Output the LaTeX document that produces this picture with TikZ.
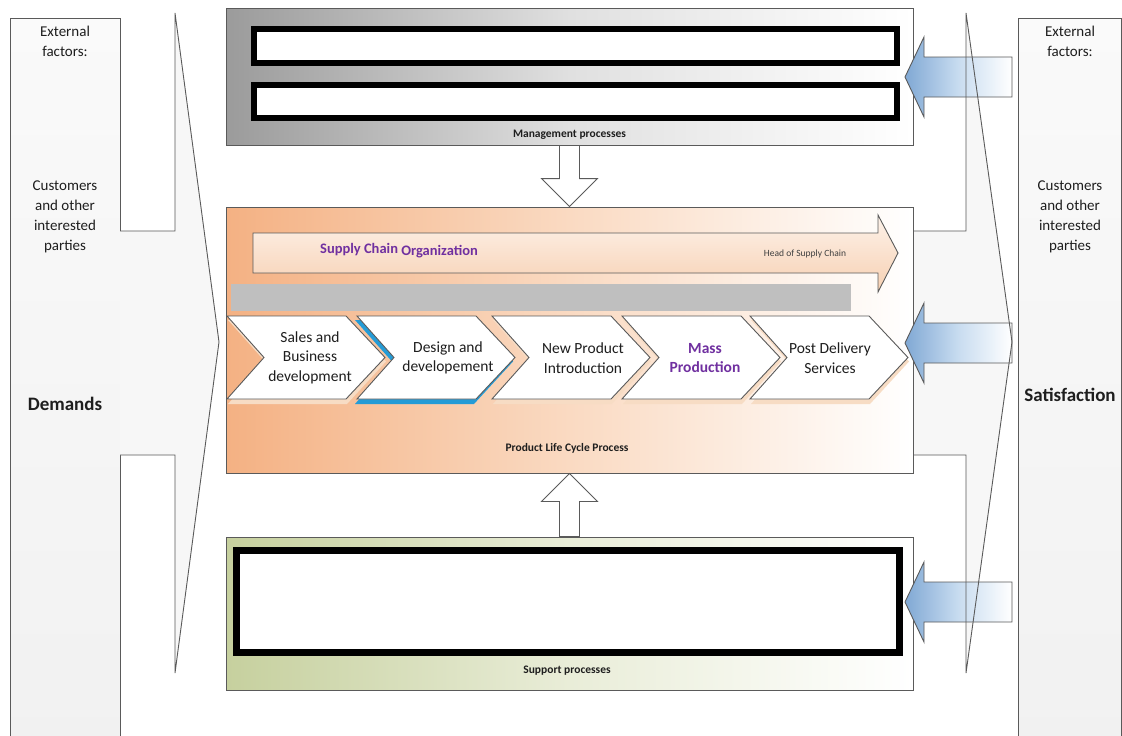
\documentclass[tikz,border=0pt]{standalone}
\usepackage{fontspec}
\setmainfont{Carlito}
\usetikzlibrary{calc}
\definecolor{lineg}{RGB}{90,90,90}
\definecolor{orng}{RGB}{244,177,131}
\definecolor{orngmid}{RGB}{250,218,194}
\definecolor{grn}{RGB}{198,208,158}
\definecolor{grnmid}{RGB}{233,237,216}
\definecolor{mgray}{RGB}{155,155,155}
\definecolor{mgraymid}{RGB}{224,224,224}
\definecolor{blu}{RGB}{128,168,212}
\definecolor{blumid}{RGB}{200,220,240}
\definecolor{purp}{RGB}{112,48,160}
\definecolor{peachsh}{RGB}{247,220,196}
\definecolor{cyansh}{RGB}{36,155,214}
\definecolor{txt}{RGB}{30,30,30}
\definecolor{barg}{RGB}{191,191,191}
\definecolor{scfill}{RGB}{247,208,178}
\definecolor{sctop}{RGB}{253,242,234}
\begin{document}
\begin{tikzpicture}[x=1pt,y=-1pt,
  outl/.style={draw=lineg,line width=0.9pt},
  procbox/.style={outl,minimum width=687pt,inner sep=0pt},
  blackbox/.style={draw=black,fill=white,inner sep=0pt},
  boxlabel/.style={font=\fontsize{11.5}{13}\selectfont\bfseries,text=txt,inner sep=0pt},
  coltext/.style={font=\fontsize{15}{20}\selectfont,text=txt,align=center,inner sep=0pt},
  colhead/.style={font=\fontsize{19}{22}\selectfont\bfseries,text=txt,inner sep=0pt},
  chevtext/.style={font=\fontsize{15.5}{19.5}\selectfont,text=txt,align=center,inner sep=0pt},
  chevshape/.style={outl,fill=white},
  colbox/.style={outl,top color=gray!4,bottom color=gray!11},
  callout/.style={outl,fill=gray!6},
  calloutline/.style={outl},
  blockarr/.style={outl,fill=white},
  bluearr/.style={outl,left color=blu,right color=white,middle color=blumid},
]
\useasboundingbox (0,0) rectangle (1122,736);
\clip (0,0) rectangle (1122,736);
\fill[white] (0,0) rectangle (1122,736);

% side columns
\draw[colbox] (10,18) rectangle (120,760);
\draw[colbox] (1018,18) rectangle (1121,760);

% left callout
\draw[callout] (120,231) -- (175,231) -- (175,13) -- (219,342) -- (175,673) -- (175,455) -- (120,455);
% right callout (fill)
\fill[gray!6] (913,231) -- (966,231) -- (966,13) -- (1012,342) -- (966,673) -- (966,455) -- (913,455) -- cycle;

% process boxes
\node[procbox,minimum height=137pt,left color=mgray,right color=white,middle color=mgraymid] (mgmt) at (569.5,76.5) {};
\node[procbox,minimum height=266pt,left color=orng,right color=white,middle color=orngmid] (plc) at (569.5,340) {};
\node[procbox,minimum height=153pt,left color=grn,right color=white,middle color=grnmid] (sup) at (569.5,613.5) {};

% inner black boxes
\node[blackbox,line width=6pt,minimum width=643pt,minimum height=34pt] (m1) at (575.5,45.5) {};
\node[blackbox,line width=6pt,minimum width=643pt,minimum height=33pt] (m2) at (575.5,101.5) {};
\node[blackbox,line width=7pt,minimum width=663pt,minimum height=102pt] (s1) at (568,601.5) {};

% labels
\node[boxlabel] (lmgmt) at (569.5,135) {Management processes};
\node[boxlabel] (lplc) at (567,448) {Product Life Cycle Process};
\node[boxlabel] (lsup) at (567,671) {Support processes};

% vertical block arrows
\draw[blockarr] ($(mgmt.south)+(-10,0)$) -- ($(plc.north)+(-10,-28)$) -- ($(plc.north)+(-28,-28)$) -- (plc.north) -- ($(plc.north)+(28,-28)$) -- ($(plc.north)+(10,-28)$) -- ($(mgmt.south)+(10,0)$) -- cycle;
\draw[blockarr] ($(sup.north)+(-10,0)$) -- ($(plc.south)+(-10,28)$) -- ($(plc.south)+(-28,28)$) -- (plc.south) -- ($(plc.south)+(28,28)$) -- ($(plc.south)+(10,28)$) -- ($(sup.north)+(10,0)$) -- cycle;

% supply chain arrow
\draw[outl,top color=sctop,bottom color=scfill] (253,233) -- (878,233) -- (878,215) -- (898,253) -- (878,292) -- (878,273) -- (253,273) -- cycle;
\node[font=\fontsize{14.5}{16}\selectfont\bfseries,text=purp,inner sep=0pt] (sco) at (399,251) {Supply Chain \raisebox{-2pt}{Organization}};
\node[font=\fontsize{9.5}{11}\selectfont,text=txt!85,inner sep=0pt] (hsc) at (805,254) {Head of Supply Chain};

% gray bar
\node[fill=barg,minimum width=620pt,minimum height=27pt,inner sep=0pt] (bar) at (541,297.5) {};

% chevrons
\foreach \xo/\sc/\dx in {227/peachsh/1,357/cyansh/-2,492/peachsh/1,622/peachsh/1,750/peachsh/1}{
  \fill[\sc] (\xo+\dx,320) -- (\xo+119+\dx,320) -- (\xo+158+\dx,361.5) -- (\xo+119+\dx,404) -- (\xo+\dx,404) -- (\xo+37+\dx,361.5) -- cycle;
  \draw[chevshape] (\xo,316) -- (\xo+119,316) -- (\xo+158,357.5) -- (\xo+119,399) -- (\xo,399) -- (\xo+37,357.5) -- cycle;
}
\node[chevtext] (c1) at (310,357.5) {Sales and\\Business\\development};
\node[chevtext] (c2) at (448,358) {Design and\\developement};
\node[chevtext] (c3) at (583,358) {New Product\\Introduction};
\node[chevtext,text=purp,font=\fontsize{15.5}{19.5}\selectfont\bfseries] (c4) at (705,358) {Mass\\Production};
\node[chevtext] (c5) at (830,358) {Post Delivery\\Services};

% blue arrows
\foreach \yy [count=\i] in {77,343,602}{
  \coordinate (bt\i) at (905,\yy);
  \draw[bluearr] (bt\i) -- (924,\yy-40) -- (924,\yy-20) -- (1012,\yy-20) -- (1012,\yy+20) -- (924,\yy+20) -- (924,\yy+40) -- cycle;
}

% right callout outline (visible through arrows)
\draw[calloutline] (913,231) -- (966,231) -- (966,13) -- (1012,342) -- (966,673) -- (966,455) -- (913,455);

% column texts
\node[coltext] (lext) at (65,41) {External\\factors:};
\node[coltext] (lcus) at (65,216.5) {Customers\\and other\\interested\\parties};
\node[colhead] (ldem) at (65,404) {Demands};
\node[coltext] (rext) at (1070,41) {External\\factors:};
\node[coltext] (rcus) at (1070,216.5) {Customers\\and other\\interested\\parties};
\node[colhead] (rsat) at (1070,395) {Satisfaction};
\end{tikzpicture}
\end{document}
